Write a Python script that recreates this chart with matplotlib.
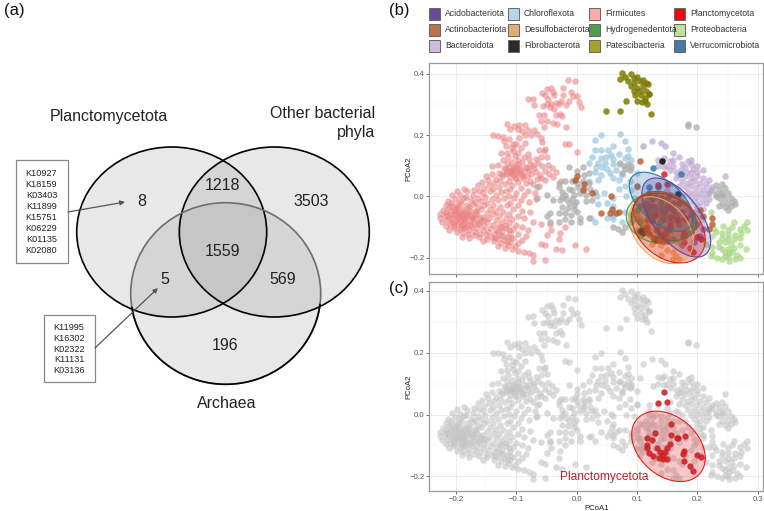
import numpy as np
import matplotlib
matplotlib.use("Agg")
import matplotlib.pyplot as plt
from matplotlib.patches import Ellipse, Rectangle

plt.rcParams["font.family"] = ["Liberation Sans", "DejaVu Sans"]

# venn values
venn_counts = ["8", "1218", "3503", "5", "1559", "569", "196"]
venn_names = ["Planctomycetota", "Other bacterial\nphyla", "Archaea"]
kos_plancto = ["K10927", "K18159", "K03403", "K11899", "K15751", "K06229", "K01135", "K02080"]
kos_shared = ["K11995", "K16302", "K02322", "K11131", "K03136"]

# legend order, filled column by column
legend_names = ["Acidobacteriota", "Actinobacteriota", "Bacteroidota",
                "Chloroflexota", "Desulfobacterota", "Fibrobacterota",
                "Firmicutes", "Hydrogenedentota", "Patescibacteria",
                "Planctomycetota", "Proteobacteria", "Verrucomicrobiota"]
legend_colors = ["#6a4a94", "#b9724b", "#cfbcdd",
                 "#b5d6e8", "#dcae74", "#2b2b2b",
                 "#fbaaa8", "#4f9e50", "#a3a32a",
                 "#ee0a0a", "#bfe39c", "#3f7aa8"]

# PCoA points
firmicutes = [
    (-0.015,0.378),(-0.003,0.375),(-0.022,0.355),(-0.01,0.342),(-0.006,0.327),(-0.022,0.33),(-0.013,0.31),(-0.026,0.31),
    (0.007,0.29),(-0.08,0.317),(-0.072,0.318),(-0.07,0.297),(-0.058,0.337),(-0.05,0.35),(-0.043,0.355),(-0.04,0.342),
    (-0.052,0.33),(-0.048,0.318),(-0.038,0.33),(-0.05,0.3),(-0.044,0.29),(-0.035,0.305),(-0.03,0.3),(-0.038,0.285),
    (-0.028,0.27),(-0.035,0.265),(-0.025,0.262),(-0.055,0.265),(-0.062,0.265),(-0.06,0.245),(-0.05,0.245),(-0.04,0.24),
    (-0.032,0.235),(-0.017,0.225),(-0.055,0.225),(0.0,0.328),(0.003,0.308),(-0.017,0.298),(-0.043,0.3),(-0.056,0.295),
    (-0.115,0.235),(-0.104,0.228),(-0.096,0.232),(-0.085,0.232),(-0.11,0.22),(-0.098,0.22),(-0.09,0.213),(-0.08,0.216),
    (-0.07,0.218),(-0.138,0.2),(-0.13,0.198),(-0.122,0.195),(-0.086,0.2),(-0.075,0.2),(-0.095,0.19),(-0.065,0.205),
    (-0.06,0.192),(-0.058,0.178),(-0.085,0.173),(-0.12,0.18),(-0.112,0.187),(-0.105,0.172),(-0.118,0.163),(-0.108,0.159),
    (-0.1,0.17),(-0.093,0.158),(-0.062,0.15),(-0.055,0.148),(-0.052,0.155),(-0.02,0.172),(-0.012,0.17),(0.0,0.145),
    (-0.05,0.13),(-0.06,0.127),(-0.068,0.121),(-0.081,0.138),(-0.088,0.128),(-0.098,0.141),(-0.106,0.147),(-0.115,0.143),
    (-0.126,0.141),(-0.114,0.127),(-0.103,0.133),(-0.097,0.119),(-0.091,0.113),(-0.079,0.121),(-0.073,0.103),(-0.064,0.109),
    (-0.057,0.098),(-0.048,0.101),(-0.041,0.091),(-0.034,0.079),(-0.046,0.074),(-0.053,0.084),(-0.061,0.071),(-0.07,0.093),
    (-0.078,0.107),(-0.086,0.097),(-0.098,0.106),(-0.107,0.113),(-0.116,0.109),(-0.122,0.119),(-0.131,0.103),(-0.141,0.098),
    (-0.112,0.097),(-0.104,0.09),(-0.096,0.093),(-0.088,0.081),(-0.079,0.087),(-0.068,0.081),(-0.059,0.059),(-0.052,0.053),
    (-0.04,0.064),(-0.026,0.051),(-0.121,0.091),(-0.109,0.083),(-0.101,0.076),(-0.093,0.072),(-0.082,0.066),(-0.075,0.074),
    (-0.066,0.057),(-0.129,0.077),(-0.117,0.072),(-0.111,0.066),(-0.103,0.061),(-0.097,0.078),(-0.089,0.059),(-0.077,0.051),
    (-0.072,0.039),(-0.063,0.034),(-0.151,0.067),(-0.141,0.073),(-0.134,0.058),(-0.124,0.066),(-0.113,0.051),(-0.106,0.072),
    (-0.098,0.048),(-0.091,0.067),(-0.084,0.044),(-0.108,0.084),(-0.157,0.048),(-0.147,0.053),(-0.137,0.043),(-0.127,0.051),
    (-0.119,0.039),(-0.107,0.037),(-0.1,0.059),(-0.092,0.027),(-0.081,0.019),(-0.069,0.012),(-0.164,0.036),(-0.153,0.029),
    (-0.146,0.037),(-0.139,0.024),(-0.129,0.031),(-0.117,0.019),(-0.11,0.024),(-0.101,0.012),(-0.087,0.006),(-0.171,0.022),
    (-0.162,0.017),(-0.155,0.012),(-0.144,0.016),(-0.134,0.006),(-0.126,0.014),(-0.113,0.001),(-0.104,-0.006),(-0.093,-0.011),
    (-0.079,-0.017),(-0.067,-0.008),(-0.181,0.016),(-0.187,0.023),(-0.199,0.018),(-0.206,0.004),(-0.193,0.003),(-0.183,-0.002),
    (-0.172,0.006),(-0.163,-0.004),(-0.152,-0.003),(-0.141,-0.007),(-0.131,-0.013),(-0.121,-0.006),(-0.111,-0.021),(-0.097,-0.028),
    (-0.214,-0.014),(-0.202,-0.009),(-0.194,-0.014),(-0.186,-0.006),(-0.176,-0.013),(-0.168,-0.017),(-0.158,-0.014),(-0.148,-0.021),
    (-0.138,-0.029),(-0.127,-0.034),(-0.116,-0.029),(-0.106,-0.041),(-0.09,-0.048),(-0.078,-0.052),(-0.217,-0.028),(-0.208,-0.021),
    (-0.199,-0.027),(-0.191,-0.022),(-0.181,-0.029),(-0.172,-0.024),(-0.163,-0.033),(-0.154,-0.027),(-0.144,-0.04),(-0.133,-0.046),
    (-0.122,-0.051),(-0.112,-0.057),(-0.098,-0.063),(-0.222,-0.044),(-0.211,-0.036),(-0.204,-0.041),(-0.196,-0.034),(-0.188,-0.042),
    (-0.179,-0.036),(-0.169,-0.046),(-0.159,-0.041),(-0.149,-0.054),(-0.139,-0.059),(-0.128,-0.063),(-0.118,-0.069),(-0.107,-0.074),
    (-0.087,-0.072),(-0.072,-0.083),(-0.226,-0.058),(-0.216,-0.051),(-0.209,-0.056),(-0.201,-0.047),(-0.193,-0.054),(-0.186,-0.048),
    (-0.177,-0.056),(-0.166,-0.059),(-0.156,-0.067),(-0.145,-0.072),(-0.134,-0.077),(-0.124,-0.083),(-0.113,-0.087),(-0.101,-0.092),
    (-0.226,-0.071),(-0.219,-0.064),(-0.212,-0.069),(-0.204,-0.062),(-0.197,-0.068),(-0.19,-0.061),(-0.183,-0.067),(-0.175,-0.063),
    (-0.168,-0.072),(-0.159,-0.079),(-0.149,-0.084),(-0.139,-0.092),(-0.129,-0.097),(-0.118,-0.102),(-0.106,-0.106),(-0.091,-0.099),
    (-0.08,-0.11),(-0.223,-0.084),(-0.215,-0.078),(-0.207,-0.083),(-0.2,-0.076),(-0.193,-0.082),(-0.186,-0.075),(-0.179,-0.08),
    (-0.171,-0.086),(-0.162,-0.091),(-0.153,-0.097),(-0.144,-0.103),(-0.134,-0.108),(-0.123,-0.114),(-0.111,-0.118),(-0.098,-0.124),
    (-0.084,-0.128),(-0.217,-0.096),(-0.21,-0.091),(-0.203,-0.097),(-0.196,-0.09),(-0.188,-0.094),(-0.181,-0.089),(-0.174,-0.099),
    (-0.165,-0.104),(-0.156,-0.109),(-0.147,-0.116),(-0.137,-0.121),(-0.127,-0.126),(-0.116,-0.131),(-0.105,-0.136),(-0.09,-0.141),
    (-0.211,-0.108),(-0.204,-0.103),(-0.194,-0.107),(-0.186,-0.103),(-0.178,-0.111),(-0.169,-0.116),(-0.16,-0.121),(-0.151,-0.127),
    (-0.141,-0.132),(-0.131,-0.138),(-0.121,-0.142),(-0.11,-0.148),(-0.097,-0.152),(-0.199,-0.117),(-0.189,-0.119),(-0.18,-0.124),
    (-0.171,-0.127),(-0.162,-0.133),(-0.149,-0.139),(-0.137,-0.146),(-0.126,-0.152),(-0.114,-0.158),(-0.103,-0.163),(-0.19,-0.131),
    (-0.178,-0.137),(-0.156,-0.146),(-0.13,-0.163),(-0.119,-0.168),(-0.108,-0.171),(-0.097,-0.177),(-0.088,-0.181),(-0.079,-0.186),
    (-0.072,-0.191),(-0.072,-0.21),(-0.053,-0.206),(-0.035,-0.17),(-0.025,-0.175),(-0.003,-0.16),(0.015,-0.17),(-0.042,-0.108),
    (-0.05,-0.125),(-0.02,-0.1),(-0.03,-0.14),(-0.06,-0.09),(-0.045,-0.09),(-0.028,-0.118),(-0.06,-0.155),(-0.052,-0.16),
    (-0.197,-0.072),(-0.19,-0.077),(-0.184,-0.06),(-0.194,-0.058),(-0.188,-0.068),(-0.181,-0.053),(-0.174,-0.074),(-0.206,-0.071),
    (-0.21,-0.047),(-0.176,-0.092),(-0.184,-0.099),(-0.2,-0.055),(-0.203,-0.087),(-0.167,-0.051),(-0.161,-0.069),(-0.178,-0.044),
    (-0.192,-0.099),(-0.215,-0.06),(-0.186,-0.087),(-0.172,-0.066),(-0.198,-0.04),(-0.207,-0.03),(-0.164,-0.086),(-0.154,-0.078),
    (-0.123,0.072),(-0.115,0.081),(-0.105,0.095),(-0.094,0.086),(-0.1,0.098),(-0.109,0.076),(-0.083,0.092),(-0.118,0.088),
    (-0.126,-0.099),(-0.119,-0.093),(-0.113,-0.109),(-0.131,-0.117),(-0.122,-0.129),(-0.111,-0.135),(-0.136,-0.135),(-0.115,-0.148),
]
chloroflexota = [
    (0.04,0.2),(0.072,0.202),(0.08,0.182),(0.03,0.185),(0.06,0.165),(0.03,0.15),(0.04,0.15),(0.052,0.15),
    (0.057,0.135),(0.085,0.155),(0.07,0.138),(0.085,0.132),(0.025,0.128),(0.04,0.125),(0.048,0.128),(0.06,0.122),
    (0.035,0.11),(0.047,0.11),(0.02,0.108),(0.032,0.095),(0.042,0.095),(0.05,0.09),(0.06,0.105),(0.07,0.105),
    (0.08,0.125),(0.09,0.118),(0.09,0.09),(0.1,0.075),(0.03,0.08),(0.04,0.07),(0.055,0.075),(0.065,0.085),
    (0.075,0.07),(0.088,0.05),(0.06,0.06),(0.07,0.055),(0.035,0.055),(0.02,0.05),(0.08,0.035),(0.09,0.02),
    (0.1,0.03),(0.07,0.025),(0.082,0.0),(0.095,-0.005),(0.06,-0.005),(0.045,0.01),(0.033,0.0),(0.035,-0.025),
    (0.05,-0.02),(0.06,-0.03),(0.06,-0.065),(0.06,-0.075),(0.05,-0.07),(0.03,-0.085),(0.024,-0.07),(0.08,-0.05),
    (0.09,-0.07),(0.075,-0.085),(0.1,-0.05),(0.11,-0.03),
]
gray_group = [
    (-0.065,0.03),(-0.05,0.005),(-0.065,-0.005),(-0.04,-0.012),(-0.03,0.03),(-0.012,0.095),(0.01,0.095),(0.0,0.082),
    (0.02,0.075),(0.012,0.07),(-0.007,0.05),(0.0,0.045),(0.01,0.05),(0.02,0.045),(-0.02,0.05),(-0.03,0.045),
    (-0.012,0.025),(-0.025,0.015),(-0.02,0.005),(-0.008,0.02),(0.002,0.03),(0.012,0.028),(0.022,0.025),(0.03,0.015),
    (-0.005,0.005),(0.005,0.01),(0.015,0.005),(-0.025,-0.002),(-0.028,-0.012),(-0.018,-0.01),(-0.008,-0.008),(-0.002,-0.018),
    (-0.012,-0.022),(-0.004,-0.028),(-0.015,-0.038),(-0.005,-0.04),(-0.025,-0.035),(-0.03,-0.055),(-0.02,-0.055),(-0.01,-0.06),
    (0.0,-0.05),(0.015,-0.015),(0.025,-0.012),(0.005,-0.07),(-0.02,-0.075),(-0.01,-0.085),(0.005,-0.085),(0.02,-0.072),
    (-0.045,-0.055),(-0.05,-0.065),(-0.045,-0.085),(-0.03,-0.085),(0.06,-0.1),(0.068,-0.105),(0.075,-0.115),(0.08,-0.1),
    (0.072,0.11),(0.078,0.1),(0.085,0.105),(0.09,0.1),(0.08,0.09),(0.088,0.085),(0.075,0.075),
    (0.185,0.235),(0.185,0.23),(0.198,0.225),(0.11,0.165),
    (0.23,0.038),(0.24,0.042),(0.225,0.02),(0.235,0.025),(0.245,0.028),(0.22,0.01),(0.23,0.008),(0.24,0.01),
    (0.25,0.012),(0.235,-0.005),(0.245,-0.005),(0.255,-0.005),(0.24,-0.02),(0.25,-0.02),(0.26,-0.015),(0.255,-0.03),
    (0.245,-0.035),(0.235,-0.03),(0.25,-0.045),(0.23,0.0),(0.262,-0.025),(0.24,0.005),
]
bacteroidota = [
    (0.125,0.18),(0.14,0.175),(0.147,0.165),(0.145,0.125),(0.155,0.115),(0.16,0.118),(0.135,0.12),(0.17,0.13),
    (0.15,0.1),(0.16,0.1),(0.175,0.105),(0.185,0.115),(0.19,0.105),(0.2,0.1),(0.18,0.095),(0.193,0.09),
    (0.155,0.085),(0.165,0.08),(0.172,0.085),(0.182,0.08),(0.19,0.075),(0.2,0.08),(0.21,0.085),(0.17,0.07),
    (0.18,0.065),(0.19,0.06),(0.2,0.065),(0.21,0.06),(0.22,0.055),(0.165,0.06),(0.175,0.05),(0.185,0.045),
    (0.195,0.05),(0.205,0.045),(0.215,0.04),(0.225,0.03),(0.245,0.065),(0.17,0.035),(0.18,0.03),(0.19,0.035),
    (0.2,0.03),(0.21,0.025),(0.22,0.02),(0.185,0.015),(0.195,0.015),(0.205,0.01),(0.215,0.008),(0.19,0.0),
    (0.2,-0.002),(0.21,-0.005),(0.22,-0.008),(0.195,-0.015),(0.205,-0.02),(0.215,-0.022),(0.2,-0.032),(0.21,-0.04),
    (0.185,-0.04),(0.195,-0.05),(0.205,-0.06),(0.175,0.0),(0.165,0.01),(0.155,0.04),(0.15,0.02),(0.18,-0.02),
    (0.135,0.1),(0.145,0.095),(0.19,0.12),(0.16,0.14),
]
proteobacteria = [
    (0.21,-0.075),(0.222,-0.05),(0.26,-0.085),(0.282,-0.085),(0.278,-0.095),(0.27,-0.105),(0.258,-0.1),(0.243,-0.095),
    (0.228,-0.105),(0.25,-0.11),(0.283,-0.11),(0.272,-0.12),(0.262,-0.125),(0.25,-0.125),(0.24,-0.12),(0.23,-0.115),
    (0.225,-0.13),(0.24,-0.135),(0.25,-0.14),(0.26,-0.14),(0.27,-0.135),(0.235,-0.15),(0.245,-0.15),(0.255,-0.155),
    (0.215,-0.155),(0.225,-0.165),(0.235,-0.165),(0.24,-0.172),(0.25,-0.17),(0.26,-0.168),(0.27,-0.16),(0.28,-0.17),
    (0.245,-0.18),(0.252,-0.186),(0.258,-0.18),(0.265,-0.19),(0.245,-0.195),(0.25,-0.198),(0.232,-0.2),(0.252,-0.21),
    (0.27,-0.2),(0.24,-0.205),(0.225,-0.185),(0.262,-0.205),(0.222,-0.195),
]
patescibacteria = [
    (0.075,0.402),(0.09,0.4),(0.08,0.39),(0.095,0.385),(0.1,0.39),(0.072,0.382),(0.085,0.375),(0.095,0.37),
    (0.105,0.375),(0.11,0.38),(0.115,0.37),(0.09,0.36),(0.1,0.355),(0.11,0.36),(0.118,0.365),(0.095,0.345),
    (0.105,0.345),(0.115,0.345),(0.12,0.335),(0.097,0.33),(0.107,0.33),(0.113,0.322),(0.12,0.335),(0.1,0.312),
    (0.108,0.308),(0.116,0.3),(0.113,0.31),(0.082,0.31),(0.049,0.28),(0.071,0.279),(0.123,0.27),
]
actinobacteria = [
    (0.105,0.117),(0.0,0.065),(-0.003,0.055),(0.012,0.042),(0.01,0.02),(0.025,0.012),(0.056,0.002),(0.04,-0.055),
    (0.055,-0.055),(0.058,-0.04),(0.065,-0.055),(0.07,-0.05),(0.1,0.035),(0.1,-0.075),(0.21,-0.065),(0.225,-0.07),
    (0.22,-0.105),(0.225,-0.09),(0.15,-0.01),(0.17,-0.02),(0.205,-0.045),(0.195,-0.1),(0.18,-0.13),
]
acidobacteria = [
    (0.12,-0.03),(0.13,-0.05),(0.14,-0.06),(0.15,-0.04),(0.16,-0.02),(0.165,-0.06),(0.175,-0.05),(0.18,-0.075),
    (0.19,-0.06),(0.195,-0.08),(0.2,-0.09),(0.21,-0.105),(0.19,-0.115),(0.17,-0.09),(0.155,-0.085),(0.145,-0.075),
    (0.125,-0.08),(0.135,-0.095),(0.175,-0.16),(0.195,-0.15),(0.12,0.0),(0.155,0.005),(0.16,-0.14),(0.205,-0.13),
]
desulfobacterota = [
    (0.1,-0.06),(0.105,-0.075),(0.11,-0.1),(0.12,-0.065),(0.13,-0.11),(0.14,-0.125),(0.145,-0.105),(0.15,-0.13),
    (0.13,-0.14),(0.125,-0.155),(0.14,-0.16),(0.15,-0.175),(0.16,-0.18),(0.165,-0.195),(0.16,-0.205),(0.17,-0.205),
    (0.14,-0.19),(0.105,-0.13),(0.17,-0.15),(0.178,-0.12),(0.1,-0.11),(0.15,-0.06),
]
hydrogenedentota = [
    (0.105,-0.085),(0.09,-0.06),(0.115,-0.045),(0.125,-0.07),(0.1,-0.045),(0.14,-0.08),(0.155,-0.11),(0.09,-0.085),(0.135,-0.13),
]
fibrobacterota = [
    (0.142,0.117),(0.168,0.008),(0.105,-0.113),(0.11,-0.118),(0.108,-0.108),(0.13,-0.142),
]
planctomycetota = [
    (0.144,0.0735),(0.134,0.036),(0.15,0.041),(0.157,-0.032),(0.129,-0.06),(0.157,-0.066),(0.167,-0.076),(0.18,-0.071),
    (0.117,-0.077),(0.124,-0.081),(0.116,-0.1),(0.155,-0.096),(0.117,-0.11),(0.133,-0.109),(0.149,-0.11),(0.12,-0.124),
    (0.138,-0.121),(0.146,-0.121),(0.127,-0.135),(0.143,-0.131),(0.177,-0.118),(0.176,-0.129),(0.199,-0.132),(0.206,-0.139),
    (0.143,-0.144),(0.149,-0.144),(0.177,-0.15),(0.188,-0.168),(0.192,-0.182),(0.137,-0.142),(0.168,-0.076),
]
verrucomicrobiota = [
    (0.127,0.093),(0.172,0.072),(0.12,0.03),(0.12,0.01),(0.13,0.0),(0.135,0.03),(0.125,-0.01),(0.14,-0.005),
    (0.14,-0.02),(0.125,-0.03),(0.13,-0.035),(0.12,-0.045),(0.14,-0.04),(0.15,-0.03),(0.115,-0.02),(0.105,-0.03),
    (0.13,-0.06),(0.12,-0.06),(0.145,-0.05),(0.16,-0.045),
]

# ellipse centre x, centre y, half width, half height, correlation
ell_verruco = (0.140, -0.0175, 0.053, 0.0965, -0.55)
ell_acido = (0.165, -0.069, 0.057, 0.129, -0.6)
ell_desulfo = (0.140, -0.110, 0.053, 0.109, -0.35)
ell_hydro = (0.139, -0.0715, 0.057, 0.083, -0.1)
ell_actino = (0.146, -0.064, 0.052, 0.080, -0.25)
ell_plancto = (0.152, -0.103, 0.061, 0.114, -0.33)

groups = [
    (firmicutes, "#ea8283", 0.58), (chloroflexota, "#9cc8e0", 0.72), (gray_group, "#adadad", 0.75),
    (bacteroidota, "#c0a8d2", 0.72), (proteobacteria, "#a9d882", 0.72), (patescibacteria, "#7d7d00", 0.85),
    (actinobacteria, "#b5592c", 0.8), (desulfobacterota, "#f59a4a", 0.75), (hydrogenedentota, "#3f9d45", 0.75),
    (acidobacteria, "#7a4a9c", 0.7), (verrucomicrobiota, "#2873ad", 0.8),
    (fibrobacterota, "#111111", 0.9), (planctomycetota, "#dd2020", 0.85),
]


def ellipse_xy(e):
    cx, cy, a, b, r = e
    t = np.linspace(0, 2 * np.pi, 200)
    return cx + a * np.cos(t), cy + b * (r * np.cos(t) + np.sqrt(1 - r ** 2) * np.sin(t))


def draw_ellipse(ax, e, color, alpha=0.28, lw=0.8):
    x, y = ellipse_xy(e)
    ax.fill(x, y, color=color, alpha=alpha, lw=0, zorder=4)
    ax.plot(x, y, color=color, lw=lw, zorder=5)


def style_panel(ax, ylim, show_x):
    ax.set_xlim(-0.2443, 0.3087)
    ax.set_ylim(*ylim)
    ax.set_xticks([-0.2, -0.1, 0.0, 0.1, 0.2, 0.3])
    ax.set_xticks([-0.15, -0.05, 0.05, 0.15, 0.25], minor=True)
    ax.set_yticks([-0.2, 0.0, 0.2, 0.4])
    ax.set_yticks([-0.1, 0.1, 0.3], minor=True)
    ax.grid(which="major", color="#e8e8e8", lw=0.6, zorder=0)
    ax.grid(which="minor", color="#f1f1f1", lw=0.35, zorder=0)
    ax.set_axisbelow(True)
    ax.tick_params(which="minor", length=0)
    ax.tick_params(which="major", length=2, width=0.6, color="#555555", labelsize=5.6,
                   labelcolor="#555555", pad=1.5, labelbottom=show_x)
    ax.set_ylabel("PCoA2", fontsize=5.6, color="#222222", labelpad=-2)
    for s in ax.spines.values():
        s.set_color("#9a9a9a")
        s.set_linewidth(0.9)


W, H = 764, 511
fig = plt.figure(figsize=(W / 100, H / 100), dpi=100)

# overlay in pixel coordinates for the venn and the legend
bg = fig.add_axes([0, 0, 1, 1])
bg.set_xlim(0, W)
bg.set_ylim(H, 0)
bg.axis("off")

venn_shapes = [(171.7, 232, 190, 170, "#000000"), (274.3, 232, 190, 170, "#000000"), (225.7, 293.5, 190, 181.6, "#6e6e6e")]
for cx, cy, w, h, c in venn_shapes:
    bg.add_patch(Ellipse((cx, cy), w, h, fc="#8c8c8c", ec="none", alpha=0.2, zorder=1))
for cx, cy, w, h, c in venn_shapes:
    bg.add_patch(Ellipse((cx, cy), w, h, fc="none", ec=c, lw=1.2, zorder=2))
# lower arc of the archaea circle is black, the part inside the others grey
arc_t = np.radians(np.linspace(7, 171, 80))
bg.plot(225.7 + 95 * np.cos(arc_t), 293.5 + 90.8 * np.sin(arc_t), color="#000000", lw=1.2, zorder=3)

count_pos = [(142, 201), (222, 186), (311.5, 201), (165, 279), (222, 251), (283, 279), (225, 346)]
for label, (x, y) in zip(venn_counts, count_pos):
    bg.text(x, y, label, fontsize=11.5, ha="center", va="center", color="#222222", zorder=6)

bg.text(109, 117, venn_names[0], fontsize=11.5, ha="center", va="center", color="#222222")
bg.text(375, 123, venn_names[1], fontsize=11.5, ha="right", va="center", color="#222222", linespacing=1.25)
bg.text(227, 403, venn_names[2], fontsize=11.5, ha="center", va="center", color="#222222")

bg.add_patch(Rectangle((15.5, 160.5), 52, 103, fc="white", ec="#888888", lw=0.9, zorder=3))
bg.text(41.5, 212, "\n".join(kos_plancto), fontsize=6.6, ha="center", va="center",
        color="#222222", linespacing=1.28, zorder=6)
bg.add_patch(Rectangle((43.5, 315.5), 51, 67, fc="white", ec="#888888", lw=0.9, zorder=3))
bg.text(69, 349, "\n".join(kos_shared), fontsize=6.6, ha="center", va="center",
        color="#222222", linespacing=1.28, zorder=6)

arrow = dict(arrowstyle="-|>", color="#555555", lw=0.9, mutation_scale=7, shrinkA=0, shrinkB=0)
bg.annotate("", xy=(125, 202), xytext=(68, 212), arrowprops=arrow, zorder=7)
bg.annotate("", xy=(158, 288), xytext=(95, 348), arrowprops=arrow, zorder=7)

bg.text(4, 10, "(a)", fontsize=12, ha="left", va="center", color="#111111")
bg.text(389, 10, "(b)", fontsize=12, ha="left", va="center", color="#111111")
bg.text(389, 288, "(c)", fontsize=12, ha="left", va="center", color="#111111")

# legend
key_x = [429.3, 508.3, 589.3, 674.3]
row_y = [14, 30, 45.7]
for i, (name, color) in enumerate(zip(legend_names, legend_colors)):
    col, row = i // 3, i % 3
    bg.add_patch(Rectangle((key_x[col], row_y[row] - 6), 11, 12, fc=color, ec="#666666", lw=0.7))
    bg.text(key_x[col] + 15.6, row_y[row], name, fontsize=6.2, ha="left", va="center", color="#333333")

# panel b
ax_b = fig.add_axes([429.3 / W, 1 - 273.5 / H, (763 - 429.3) / W, (273.5 - 63.3) / H])
style_panel(ax_b, (-0.2514, 0.434), False)
for pts, color, alpha in groups:
    p = np.array(pts)
    ax_b.scatter(p[:, 0], p[:, 1], s=22, color=color, alpha=alpha, lw=0, zorder=3)
draw_ellipse(ax_b, ell_desulfo, "#f2a65a", alpha=0.3)
draw_ellipse(ax_b, ell_hydro, "#3f9d45", alpha=0.18)
draw_ellipse(ax_b, ell_verruco, "#2873ad", alpha=0.25)
draw_ellipse(ax_b, ell_acido, "#5a4aa0", alpha=0.27)
draw_ellipse(ax_b, ell_actino, "#8a5a30", alpha=0.35)
draw_ellipse(ax_b, ell_plancto, "#d62020", alpha=0.28)

# panel c
ax_c = fig.add_axes([429.3 / W, 1 - 491 / H, (763 - 429.3) / W, (491 - 281.7) / H])
style_panel(ax_c, (-0.2476, 0.430), True)
ax_c.set_xlabel("PCoA1", fontsize=5.6, color="#222222", labelpad=1.5)
for pts, color, alpha in groups:
    p = np.array(pts)
    ax_c.scatter(p[:, 0], p[:, 1], s=22, color="#c4c4c4", alpha=0.6, lw=0, zorder=3)
draw_ellipse(ax_c, ell_plancto, "#e01e1e", alpha=0.25)
p = np.array(planctomycetota)
ax_c.scatter(p[:, 0], p[:, 1], s=20, color="#d01c20", alpha=0.85, lw=0, zorder=6)
ax_c.text(0.046, -0.202, "Planctomycetota", fontsize=8.6, color="#c0202a", ha="center", va="center", zorder=7)

fig.savefig("out.png", dpi=100)
